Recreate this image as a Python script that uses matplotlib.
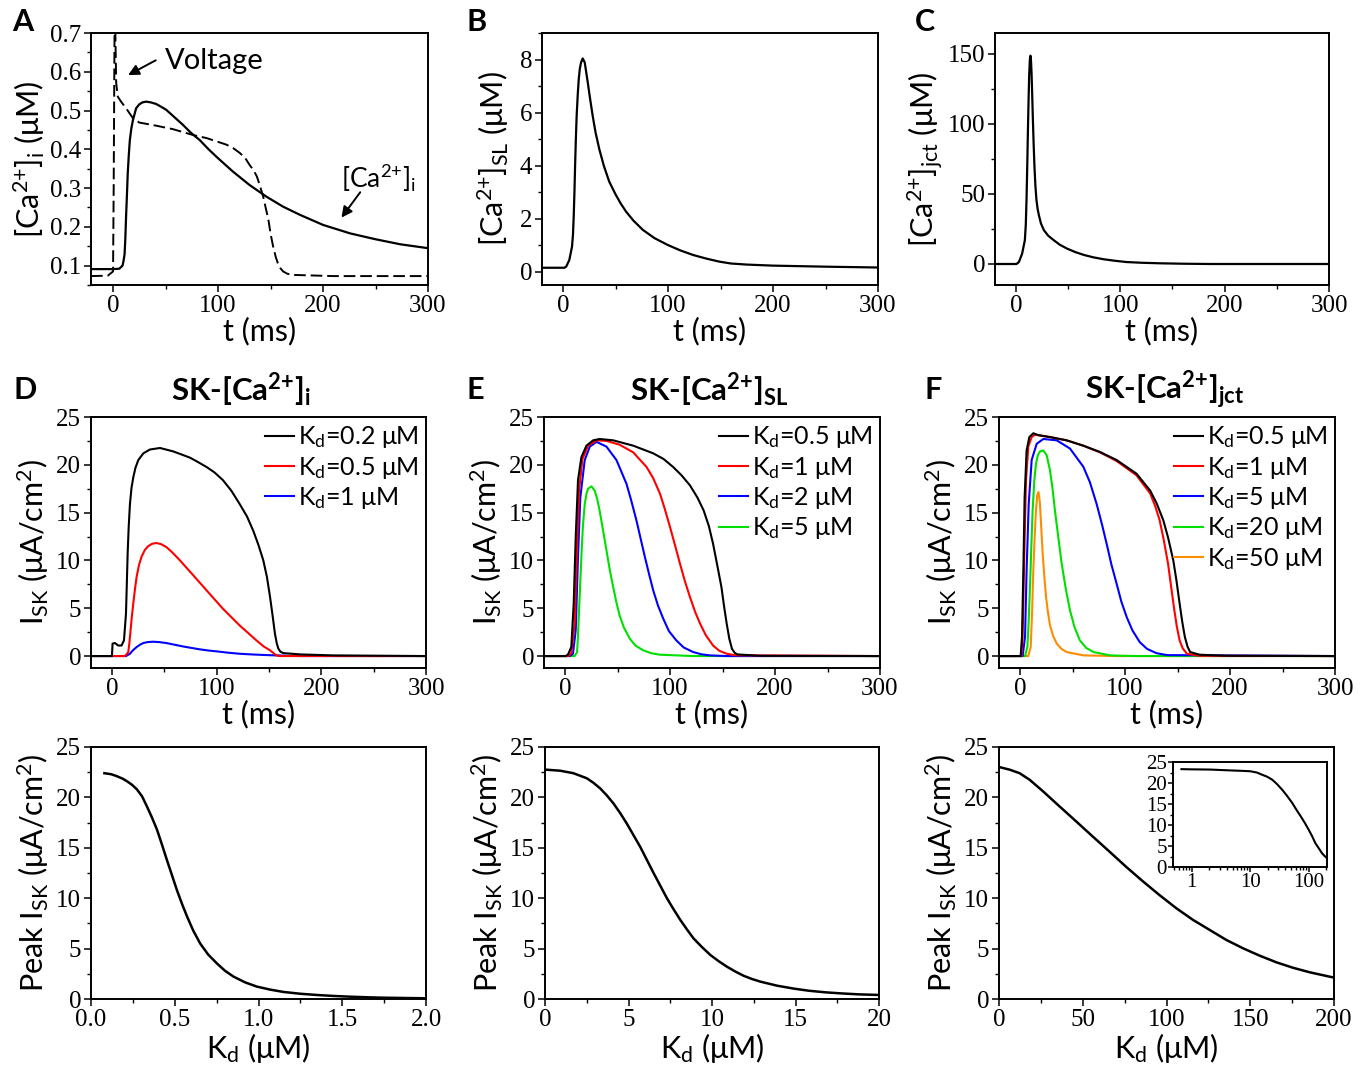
#!/usr/bin/env python3
"""
Ca2+ transients and SK current vs Kd, six panels plus peak-current curves.
"""

import matplotlib
matplotlib.use("Agg")
import matplotlib.pyplot as plt
from matplotlib.ticker import AutoMinorLocator, FixedLocator, LogLocator, NullFormatter

# ---- panel A: cytosolic Ca and (scaled) voltage ----
t_cai = [-21, 0, 6, 9, 10, 11, 11.7, 12.4, 13.2, 14, 15, 16, 17.5, 19, 22, 25, 28, 31.5,
         36, 41, 45, 50.6, 58, 66.6, 74, 82.5, 91, 100, 114, 130, 146, 162, 178, 200, 226,
         250, 273.6, 300]
cai = [0.091, 0.091, 0.092, 0.100, 0.112, 0.130, 0.170, 0.226, 0.280, 0.338, 0.385, 0.424,
       0.455, 0.476, 0.506, 0.516, 0.521, 0.523, 0.521, 0.517, 0.511, 0.502, 0.484, 0.463,
       0.443, 0.424, 0.400, 0.377, 0.343, 0.308, 0.278, 0.252, 0.231, 0.205, 0.183, 0.168,
       0.155, 0.145]
t_volt = [-21, -5, 0, 0.6, 1.5, 2.2, 3, 4.5, 7.6, 12.4, 19, 25, 41, 57, 76, 89, 108, 115,
          121, 126, 130, 134, 137, 140, 143, 145.5, 148, 150, 152.5, 155, 157, 159.5, 162,
          166, 171.6, 210, 300]
volt = [0.073, 0.074, 0.085, 0.30, 0.75, 0.70, 0.571, 0.536, 0.523, 0.506, 0.480, 0.469,
        0.461, 0.452, 0.437, 0.429, 0.412, 0.402, 0.390, 0.377, 0.360, 0.345, 0.330, 0.305,
        0.278, 0.248, 0.218, 0.183, 0.149, 0.122, 0.106, 0.093, 0.085, 0.079, 0.076, 0.073,
        0.073]

# ---- panel B: subsarcolemmal Ca ----
t_casl = [-20, 1.3, 3, 6, 8.6, 9.5, 10.2, 10.9, 11.5, 12.2, 13, 14, 15, 16, 17.2, 18.8,
          20.7, 22, 23.6, 25.5, 28.3, 31, 34.7, 39, 44, 50, 55, 60, 67, 76, 87, 99.7, 112,
          124, 137, 149, 160, 175, 200, 251, 300]
casl = [0.15, 0.15, 0.19, 0.44, 0.95, 1.40, 2.08, 3.00, 3.97, 4.95, 5.87, 6.65, 7.26, 7.65,
        7.89, 8.04, 7.89, 7.55, 7.13, 6.60, 5.87, 5.25, 4.60, 3.98, 3.40, 2.92, 2.57, 2.27,
        1.93, 1.58, 1.27, 1.01, 0.80, 0.63, 0.49, 0.38, 0.31, 0.27, 0.23, 0.19, 0.16]

# ---- panel C: junctional Ca ----
t_cajct = [-20, 0.6, 2.9, 6, 8.6, 9.5, 10.2, 10.9, 11.5, 12.1, 12.7, 13.4, 14, 14.5, 15,
           15.6, 16.2, 17, 17.8, 18.7, 19.7, 20.8, 22, 24, 26.8, 31, 36.3, 42, 49, 57, 65,
           74, 84, 95, 106, 120, 138, 160, 186, 300]
cajct = [0, 0, 1.4, 7.4, 17, 28, 45.8, 70, 93.7, 115, 134, 146, 148.8, 145, 136.8, 122,
         105.7, 86, 69.7, 56, 45.8, 39.5, 35, 29, 24.2, 20.2, 17, 13.8, 11, 8.5, 6.5, 4.8,
         3.4, 2.3, 1.4, 0.9, 0.5, 0.2, 0, 0]

# ---- panel D: SK driven by [Ca]i ----
d_labels = ["0.2", "0.5", "1"]
d_colors = ["black", "red", "blue"]
d_t_02 = [-20, 0, 0.6, 2.9, 6, 9.2, 11.5, 13.4, 14.2, 15, 16, 17.2, 18.7, 20.4, 22.5, 25.2,
          30, 36.3, 45.9, 58.6, 66, 74.5, 82, 90.4, 98, 106, 114, 122, 129, 135, 140, 144.6,
          148, 151, 153.5, 155.7, 157.5, 159, 161, 163.7, 180, 211, 300]
d_i_02 = [0, 0, 1.3, 1.36, 1.1, 1.1, 1.64, 4.4, 7.5, 10.7, 13.5, 15.9, 17.6, 18.7, 19.7,
          20.5, 21.2, 21.6, 21.76, 21.4, 21.1, 20.75, 20.3, 19.77, 19.2, 18.4, 17.3, 15.9,
          14.6, 13.1, 11.6, 10.0, 8.3, 6.2, 4.2, 2.34, 1.3, 0.77, 0.45, 0.31, 0.17, 0.07, 0]
d_t_05 = [-20, 12.4, 15.6, 16.7, 17.8, 19, 20.4, 22, 23.6, 25.8, 28.3, 31.5, 34.7, 38.5,
          42.7, 47, 52, 58, 65, 77.7, 90.4, 106, 122, 138, 145, 151, 157, 160.5, 300]
d_i_05 = [0, 0, 0.4, 1.4, 2.7, 4.1, 5.5, 7.0, 8.3, 9.5, 10.4, 11.1, 11.5, 11.75, 11.82,
          11.7, 11.4, 10.8, 10.0, 8.44, 6.87, 4.95, 3.2, 1.64, 1.0, 0.6, 0.07, 0, 0]
d_t_1 = [-20, 13.4, 17.2, 20, 23.6, 27, 30, 34, 39.5, 45, 52, 60, 68, 76, 84, 92, 100, 111,
         122, 135, 148, 165, 180, 300]
d_i_1 = [0, 0, 0.24, 0.6, 0.94, 1.2, 1.36, 1.46, 1.50, 1.46, 1.36, 1.18, 1.0, 0.85, 0.7,
         0.58, 0.49, 0.35, 0.24, 0.16, 0.1, 0.04, 0, 0]

# ---- panel E: SK driven by [Ca]SL ----
e_labels = ["0.5", "1", "2", "5"]
e_colors = ["black", "red", "blue", "#00e000"]
e_t_05 = [-20, 0.6, 2.9, 6, 8.3, 10.2, 12.4, 15.6, 20.4, 26.8, 33, 45.9, 65, 84, 94, 103,
          111, 119, 126, 132, 137, 141, 145, 149, 151.5, 154, 156.5, 159, 161.5, 164, 186,
          300]
e_i_05 = [0, 0, 0.17, 0.94, 5.5, 12.4, 18.4, 20.8, 22.0, 22.56, 22.7, 22.56, 22.0, 21.2,
          20.6, 19.77, 18.9, 17.85, 16.6, 15.24, 13.6, 11.75, 9.5, 7.2, 5.2, 3.38, 1.8, 0.77,
          0.35, 0.17, 0.03, 0]
e_t_1 = [-20, 2.9, 6, 9.2, 11.5, 13.4, 16.6, 22, 30, 39.5, 52, 65, 77.7, 84, 90.4, 95, 100,
         105, 109.5, 114, 119, 124, 128.7, 134, 141, 147, 154, 162, 300]
e_i_1 = [0, 0, 0.3, 3.38, 11.75, 17.3, 20.6, 22.0, 22.56, 22.5, 22.1, 21.3, 19.77, 18.6,
         17.0, 15.4, 13.5, 11.5, 9.66, 7.9, 6.17, 4.6, 3.38, 2.2, 1.1, 0.55, 0.24, 0.08, 0]
e_t_2 = [-20, 4.5, 7.6, 10.2, 12.4, 14.6, 18.8, 23.6, 30, 39.5, 49, 58.6, 63, 68, 72, 76,
         80, 84, 88.5, 93.6, 99, 106, 113, 122, 130, 138, 154, 300]
e_i_2 = [0, 0, 0.24, 2.7, 10.4, 16.6, 20.5, 21.9, 22.4, 21.9, 20.5, 18.0, 16.3, 14.2, 12.3,
         10.4, 8.6, 6.87, 5.3, 3.9, 2.6, 1.64, 0.9, 0.42, 0.18, 0.07, 0, 0]
e_t_5 = [-20, 9.2, 11.5, 12.4, 13.4, 14.5, 15.6, 17, 18.8, 20.5, 22, 25.2, 28.3, 30.5, 33,
         36, 39.5, 42.5, 45.9, 49, 52, 56, 61.8, 67, 74.5, 82, 90.4, 122, 300]
e_i_5 = [0, 0, 0.42, 2.2, 4.8, 7.6, 10.4, 13.5, 15.9, 17.0, 17.5, 17.75, 17.3, 16.5, 15.2,
         13.3, 11.05, 9.1, 7.2, 5.6, 4.25, 3.0, 1.8, 1.1, 0.6, 0.3, 0.14, 0, 0]

# ---- panel F: SK driven by [Ca]jct ----
f_labels = ["0.5", "1", "5", "20", "50"]
f_colors = ["black", "red", "blue", "#00e000", "#ff8c00"]
f_t_05 = [-20, 0.6, 1.9, 3.2, 4.4, 6.3, 8.9, 12.7, 17.5, 28.6, 44.4, 60.3, 76.2, 92, 111,
          124, 130, 136.5, 141, 146, 149, 152, 154.5, 157, 159.5, 162, 171, 197, 300]
f_i_05 = [0, 0, 2.0, 9.0, 16.6, 21.5, 22.9, 23.3, 23.1, 22.9, 22.56, 22.0, 21.34, 20.5,
          19.07, 17.3, 16.0, 14.2, 12.4, 10.0, 7.9, 5.5, 3.6, 2.0, 1.0, 0.42, 0.14, 0.03, 0]
f_t_1 = [-20, 1.3, 2.5, 4.1, 5.7, 7.9, 11.1, 14.3, 28.6, 44.4, 60.3, 76.2, 92, 111, 124,
         129, 133, 137, 141, 144, 147, 149.5, 152, 155, 159, 171, 300]
f_i_1 = [0, 0, 2.0, 10.7, 18.4, 21.9, 22.9, 23.15, 22.9, 22.56, 22.0, 21.3, 20.4, 18.9,
         17.0, 15.6, 14.2, 12.1, 9.66, 7.2, 4.78, 3.0, 1.64, 0.8, 0.24, 0.03, 0]
f_t_5 = [-20, 2.5, 4.8, 6.3, 8.3, 11.1, 15.9, 22.2, 35, 47.6, 60.3, 66.5, 73, 78, 82.5, 87,
         92, 96.5, 101.6, 107, 114, 121, 130, 140, 300]
f_i_5 = [0, 0, 2.0, 9.0, 15.9, 20.5, 22.2, 22.7, 22.56, 21.7, 19.8, 18.2, 15.9, 13.8, 11.75,
         9.6, 7.57, 5.7, 4.08, 2.7, 1.46, 0.75, 0.3, 0.1, 0]
f_t_20 = [-20, 4.8, 7, 8.2, 9.5, 10.8, 12, 13.6, 15.2, 17, 19, 22.2, 25.4, 28.6, 31, 33.3,
          36.5, 39.7, 43.5, 47.6, 52, 57, 63, 70, 85.7, 110, 300]
f_i_20 = [0, 0, 0.94, 3.5, 7.2, 11.5, 15.2, 18.3, 20.1, 21.0, 21.4, 21.5, 21.0, 19.4, 17.5,
          15.2, 12.4, 9.66, 7.1, 4.78, 3.0, 1.64, 0.85, 0.42, 0.07, 0, 0]
f_t_50 = [-20, 7.9, 10.2, 11.5, 12.7, 14, 15.2, 16.4, 17.5, 18.3, 19, 20.2, 21.6, 23.2,
          24.8, 26.7, 28.6, 31.5, 35, 39.5, 44.4, 60.3, 90, 300]
f_i_50 = [0, 0, 0.94, 4.5, 9.0, 12.5, 15.2, 16.8, 17.15, 16.7, 15.9, 13.5, 10.7, 8.3, 6.17,
          4.5, 3.2, 2.1, 1.3, 0.75, 0.42, 0.07, 0, 0]

# ---- bottom row: peak I_SK vs Kd ----
kd_i = [0.08, 0.12, 0.155, 0.19, 0.215, 0.245, 0.274, 0.305, 0.334, 0.364, 0.394, 0.424,
        0.453, 0.483, 0.513, 0.543, 0.573, 0.61, 0.652, 0.70, 0.751, 0.80, 0.851, 0.92,
        0.99, 1.07, 1.149, 1.25, 1.348, 1.45, 1.547, 1.65, 1.745, 1.87, 2.0]
peak_i = [22.4, 22.3, 22.1, 21.85, 21.6, 21.25, 20.8, 20.1, 19.1, 18.0, 16.8, 15.3, 13.8,
          12.3, 10.8, 9.45, 8.2, 6.8, 5.5, 4.4, 3.54, 2.8, 2.22, 1.65, 1.23, 0.93, 0.7,
          0.52, 0.4, 0.3, 0.23, 0.17, 0.13, 0.1, 0.07]
kd_sl = [0.06, 0.9, 1.7, 2.5, 2.9, 3.3, 3.7, 4.1, 4.5, 4.9, 5.3, 5.7, 6.1, 6.5, 6.9, 7.3,
         7.7, 8.1, 8.5, 8.9, 9.4, 9.9, 10.4, 10.9, 11.4, 11.9, 12.4, 12.9, 13.9, 14.9, 15.8,
         16.8, 17.8, 18.8, 20]
peak_sl = [22.75, 22.65, 22.4, 21.9, 21.45, 20.9, 20.2, 19.4, 18.45, 17.4, 16.25, 15.1,
           13.8, 12.5, 11.25, 10.0, 8.9, 7.85, 6.9, 6.0, 5.15, 4.37, 3.75, 3.2, 2.72, 2.3,
           1.98, 1.72, 1.32, 1.03, 0.82, 0.66, 0.55, 0.46, 0.4]
kd_jct = [0.4, 6.4, 12.3, 18.3, 26.3, 36.2, 46.2, 56.1, 66.1, 76, 86, 95.9, 105.9, 115.8,
          125.8, 135.7, 145.7, 155.6, 165.6, 175.5, 185.5, 200]
peak_jct = [23.0, 22.75, 22.4, 21.75, 20.6, 19.1, 17.6, 16.1, 14.6, 13.1, 11.66, 10.3, 9.0,
            7.85, 6.85, 5.86, 5.03, 4.3, 3.64, 3.1, 2.65, 2.12]
# inset (log Kd)
kd_jct_log = [0.67, 1, 2.06, 4.5, 7, 10, 13, 15.8, 19.5, 23.8, 29, 35.3, 43, 52.7, 62, 73,
              86, 100, 115, 130, 150, 169, 188, 206]
peak_jct_log = [23.3, 23.25, 23.2, 23.0, 22.9, 22.8, 22.5, 22.0, 21.5, 20.8, 19.7, 18.4,
                16.9, 15.2, 13.6, 12.1, 10.5, 8.9, 7.3, 5.7, 4.4, 3.3, 2.6, 2.1]

W, H = 1371, 1065
SANS = ["Lato", "DejaVu Sans"]
SERIF = "Liberation Serif"

# serif for tick numbers, sans for every label
plt.rcParams["font.family"] = SERIF
plt.rcParams["mathtext.fontset"] = "custom"
plt.rcParams["mathtext.rm"] = "Lato"
plt.rcParams["mathtext.default"] = "regular"

CA = r"Ca$^{2{+}}$"   # braces keep the + from getting operator spacing


def box(left, right, top, bottom):
    """pixel box (from top-left) -> figure fraction rect"""
    return [left / W, 1 - bottom / H, (right - left) / W, (bottom - top) / H]


def style(ax, tick_size=18):
    for s in ax.spines.values():
        s.set_linewidth(1.4)
    ax.tick_params(which="major", direction="out", length=5, width=1.1,
                   labelsize=tick_size, pad=2, top=False, right=False)
    ax.tick_params(which="minor", direction="out", length=3, width=1.0,
                   top=False, right=False)


def lin_minor(ax):
    ax.xaxis.set_minor_locator(AutoMinorLocator(2))
    ax.yaxis.set_minor_locator(AutoMinorLocator(2))


LABEL = 22
isk = r"I$_{SK}$ (μA/cm$^{2}$)"
peak_label = r"Peak I$_{SK}$ (μA/cm$^{2}$)"
kd_label = r"K$_{d}$ (μM)"


def labels(ax, xl, yl, ypad=4):
    ax.set_xlabel(xl, fontsize=LABEL, family=SANS, labelpad=0)
    ax.set_ylabel(yl, fontsize=LABEL, family=SANS, labelpad=ypad)


def legend(ax, lines, kds):
    ax.legend(lines, [r"K$_{d}$=" + k + " μM" for k in kds],
              loc="upper right", frameon=False, prop={"family": SANS, "size": 18},
              handlelength=1.15, handletextpad=0.15, labelspacing=0.17,
              borderaxespad=0.1, borderpad=0.2)


def main():
    fig = plt.figure(figsize=(W / 100, H / 100), dpi=100)

    # A
    ax = fig.add_axes(box(91, 428, 33, 285))
    ax.plot(t_cai, cai, color="black", lw=1.6)
    ax.plot(t_volt, volt, color="black", lw=1.4, ls=(0, (6, 2.5)))
    ax.set_xlim(-21, 300)
    ax.set_ylim(0.05, 0.7)
    ax.set_xticks([0, 100, 200, 300])
    ax.set_yticks([0.1, 0.2, 0.3, 0.4, 0.5, 0.6, 0.7])
    lin_minor(ax)
    style(ax)
    labels(ax, "t (ms)", "[" + CA + r"]$_{i}$ (μM)", ypad=2)
    ax.text(49, 0.627, "Voltage", fontsize=21, family=SANS, ha="left", va="center")
    ax.annotate("", xy=(12, 0.588), xytext=(43, 0.633),
                arrowprops=dict(arrowstyle="-|>", color="black", lw=1.4, mutation_scale=16))
    ax.text(253, 0.327, "[" + CA + r"]$_{i}$", fontsize=19, family=SANS,
            ha="center", va="center")
    ax.annotate("", xy=(216, 0.218), xytext=(237, 0.295),
                arrowprops=dict(arrowstyle="-|>", color="black", lw=1.4, mutation_scale=16))

    # B
    ax = fig.add_axes(box(542, 878, 33, 285))
    ax.plot(t_casl, casl, color="black", lw=1.6)
    ax.set_xlim(-20, 300)
    ax.set_ylim(-0.5, 9)
    ax.set_xticks([0, 100, 200, 300])
    ax.set_yticks([0, 2, 4, 6, 8])
    lin_minor(ax)
    style(ax)
    labels(ax, "t (ms)", "[" + CA + r"]$_{SL}$ (μM)", ypad=6)

    # C
    ax = fig.add_axes(box(995, 1329, 33, 285))
    ax.plot(t_cajct, cajct, color="black", lw=1.6)
    ax.set_xlim(-20, 300)
    ax.set_ylim(-15, 165)
    ax.set_xticks([0, 100, 200, 300])
    ax.set_yticks([0, 50, 100, 150])
    lin_minor(ax)
    style(ax)
    labels(ax, "t (ms)", "[" + CA + r"]$_{jct}$ (μM)", ypad=2)

    # D, E, F
    sk_panels = [
        (box(91, 426, 417, 668), [(d_t_02, d_i_02), (d_t_05, d_i_05), (d_t_1, d_i_1)],
         d_labels, d_colors, "SK-[" + CA + r"]$_{i}$", 241),
        (box(544, 880, 417, 668), [(e_t_05, e_i_05), (e_t_1, e_i_1), (e_t_2, e_i_2),
                                   (e_t_5, e_i_5)],
         e_labels, e_colors, "SK-[" + CA + r"]$_{SL}$", 709),
        (box(999, 1335, 417, 668), [(f_t_05, f_i_05), (f_t_1, f_i_1), (f_t_5, f_i_5),
                                    (f_t_20, f_i_20), (f_t_50, f_i_50)],
         f_labels, f_colors, "SK-[" + CA + r"]$_{jct}$", 1165),
    ]
    for rect, series, kds, colors, title, tx in sk_panels:
        ax = fig.add_axes(rect)
        lines = []
        # draw in reverse so black stays on top
        for (t, i), c in reversed(list(zip(series, colors))):
            ln, = ax.plot(t, i, color=c, lw=1.5)
            lines.insert(0, ln)
        ax.set_xlim(-20, 300)
        ax.set_ylim(-1.25, 25)
        ax.set_xticks([0, 100, 200, 300])
        ax.set_yticks([0, 5, 10, 15, 20, 25])
        lin_minor(ax)
        style(ax)
        labels(ax, "t (ms)", isk)
        legend(ax, lines, kds)
        fig.text(tx / W, 1 - 390 / H, title, fontsize=22.5, fontweight="bold",
                 family=SANS, ha="center", va="center")

    # bottom row
    bottom = [
        (box(91, 426, 747, 999), kd_i, peak_i, (0, 2), [0.0, 0.5, 1.0, 1.5, 2.0], "{:.1f}"),
        (box(545, 879, 747, 999), kd_sl, peak_sl, (0, 20), [0, 5, 10, 15, 20], "{:.0f}"),
        (box(999, 1334, 747, 999), kd_jct, peak_jct, (0, 200), [0, 50, 100, 150, 200], "{:.0f}"),
    ]
    for rect, kd, pk, xl, xt, fmt in bottom:
        ax = fig.add_axes(rect)
        ax.plot(kd, pk, color="black", lw=1.8)
        ax.set_xlim(*xl)
        ax.set_ylim(0, 25)
        ax.set_xticks(xt)
        ax.set_xticklabels([fmt.format(v) for v in xt])
        ax.set_yticks([0, 5, 10, 15, 20, 25])
        lin_minor(ax)
        style(ax)
        labels(ax, kd_label, peak_label)

    # inset in last panel
    ax = fig.add_axes(box(1173, 1327, 762, 867))
    ax.plot(kd_jct_log, peak_jct_log, color="black", lw=1.5)
    ax.set_xscale("log")
    ax.set_xlim(0.48, 206)
    ax.set_ylim(0, 25)
    ax.xaxis.set_major_locator(FixedLocator([1, 10, 100]))
    ax.xaxis.set_minor_locator(LogLocator(base=10, subs=range(2, 10)))
    ax.xaxis.set_minor_formatter(NullFormatter())
    ax.set_xticklabels(["1", "10", "100"])
    ax.set_yticks([0, 5, 10, 15, 20, 25])
    ax.yaxis.set_minor_locator(AutoMinorLocator(2))
    style(ax, tick_size=15)
    ax.tick_params(which="major", length=3.5, pad=1)
    ax.tick_params(which="minor", length=2)

    # panel letters
    for letter, x, y in [("A", 23, 22), ("B", 477, 22), ("C", 925, 22),
                         ("D", 25, 390), ("E", 475, 390), ("F", 933, 390)]:
        fig.text(x / W, 1 - y / H, letter, fontsize=22, fontweight="bold",
                 family=SANS, ha="center", va="center")

    fig.savefig("out.png", dpi=100)


if __name__ == "__main__":
    main()
